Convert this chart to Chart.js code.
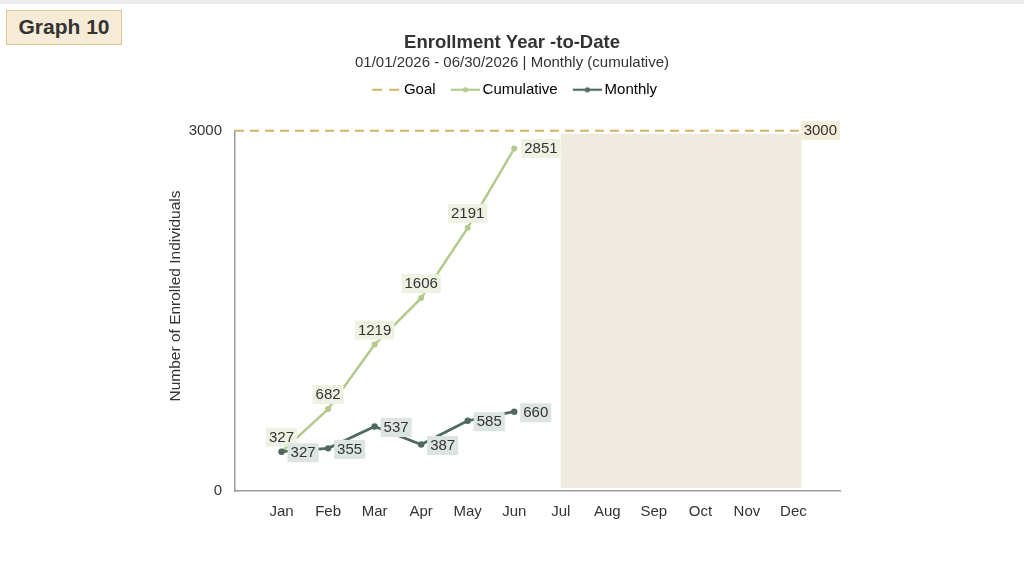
<!DOCTYPE html>
<html><head><meta charset="utf-8">
<script src="https://cdn.jsdelivr.net/npm/chart.js@4.4.1/dist/chart.umd.min.js"></script>
<style>
html,body{margin:0;padding:0;background:#fff;}
body{width:1024px;height:582px;overflow:hidden;position:relative;font-family:"Liberation Sans",Arial,sans-serif;}
#topbar{position:absolute;left:0;top:0;width:1024px;height:4px;background:#ececec;}
#badge{position:absolute;left:6px;top:10px;width:116px;height:35px;background:#f5ebd7;border:1px solid #dcc592;box-sizing:border-box;font-weight:bold;font-size:21px;color:#333;line-height:32px;text-align:center;}
#wrap{position:absolute;left:0;top:0;width:1024px;height:582px;}
</style></head>
<body>
<div id="topbar"></div>
<div id="wrap"><canvas id="c" width="1024" height="582"></canvas></div>
<div id="badge">Graph 10</div>
<script>
const months = ['Jan','Feb','Mar','Apr','May','Jun','Jul','Aug','Sep','Oct','Nov','Dec'];
const cumulative = [327, 682, 1219, 1606, 2191, 2851];
const monthly = [327, 355, 537, 387, 585, 660];
const goal = 3000;
const yTicks = [0, 3000];
const forecastFrom = 'Jul';
const legendNames = ['Goal', 'Cumulative', 'Monthly'];

const FONT = '"Liberation Sans", Arial, sans-serif';
const C_GOAL = '#d5b262', C_CUM = '#b4ca8c', C_MON = '#4f6a62';
const BG_CUM = '#eef2e3', BG_MON = '#dde4e4', BG_GOAL = '#f4eddb', SHADE = '#efebe1';

function icon(color, dashed, dot) {
  const W = 39, iw = 29;
  const c = document.createElement('canvas'); c.width = W; c.height = 10;
  const g = c.getContext('2d');
  g.strokeStyle = color; g.lineWidth = 2.2;
  if (dashed) g.setLineDash([10, 7]);
  g.beginPath(); g.moveTo(W - iw, 5); g.lineTo(W, 5); g.stroke();
  if (dot) { g.fillStyle = color; g.beginPath(); g.arc(W - iw / 2, 5, 2.6, 0, Math.PI * 2); g.fill(); }
  return c;
}
const icons = [icon(C_GOAL, true, false), icon(C_CUM, false, true), icon(C_MON, false, true)];

const pts = arr => arr.map((v, i) => ({x: i + 1, y: v}));

function box(ctx, text, cx, cy, bg) {
  ctx.font = '15px ' + FONT;
  const w = ctx.measureText(text).width + 6, h = 19;
  ctx.fillStyle = bg;
  ctx.fillRect(cx - w / 2, cy - h / 2, w, h);
  ctx.fillStyle = '#333';
  ctx.textAlign = 'center'; ctx.textBaseline = 'middle';
  ctx.fillText(text, cx, cy + 0.5);
  return w;
}

const overlay = {
  id: 'overlay',
  beforeDatasetsDraw(chart) {
    const {ctx, chartArea: a, scales: {x, y}} = chart;
    ctx.save();
    ctx.font = '15px ' + FONT;
    const gy = y.getPixelForValue(goal);
    const lw = ctx.measureText(String(goal)).width + 6;
    const labLeft = a.right - lw;
    const sx = x.getPixelForValue(months.indexOf(forecastFrom) + 1);
    ctx.fillStyle = SHADE;
    ctx.fillRect(sx, gy + 3, labLeft + 1 - sx, y.getPixelForValue(0) - 3 - (gy + 3));
    ctx.strokeStyle = C_GOAL; ctx.lineWidth = 2; ctx.setLineDash([9, 6]);
    ctx.beginPath(); ctx.moveTo(a.left, gy); ctx.lineTo(labLeft, gy); ctx.stroke();
    ctx.setLineDash([]);
    box(ctx, String(goal), labLeft + lw / 2, gy, BG_GOAL);
    ctx.restore();
  },
  afterDatasetsDraw(chart) {
    const {ctx} = chart;
    ctx.save();
    ctx.font = '15px ' + FONT;
    const mc = chart.getDatasetMeta(0), mm = chart.getDatasetMeta(1);
    cumulative.forEach((v, i) => {
      const p = mc.data[i];
      const t = String(v);
      const w = ctx.measureText(t).width + 6;
      if (i === cumulative.length - 1) box(ctx, t, p.x + 7 + w / 2, p.y, BG_CUM);
      else box(ctx, t, p.x, p.y - 5 - 9.5, BG_CUM);
    });
    monthly.forEach((v, i) => {
      const p = mm.data[i];
      const t = String(v);
      const w = ctx.measureText(t).width + 6;
      box(ctx, t, p.x + 6 + w / 2, p.y + 1, BG_MON);
    });
    ctx.restore();
  },
  afterDraw(chart) {
    const {ctx} = chart;
    ctx.save();
    ctx.translate(176, 296);
    ctx.rotate(-Math.PI / 2);
    ctx.font = '15.5px ' + FONT;
    ctx.fillStyle = '#333';
    ctx.textAlign = 'center'; ctx.textBaseline = 'middle';
    ctx.fillText('Number of Enrolled Individuals', 0, 0);
    ctx.restore();
  }
};

new Chart(document.getElementById('c'), {
  type: 'line',
  data: {
    datasets: [
      {label: legendNames[1], data: pts(cumulative), borderColor: C_CUM, backgroundColor: C_CUM,
       borderWidth: 2.5, pointRadius: 3, pointBorderWidth: 0, tension: 0, order: 2},
      {label: legendNames[2], data: pts(monthly), borderColor: C_MON, backgroundColor: C_MON,
       borderWidth: 2.8, pointRadius: 3.2, pointBorderWidth: 0, tension: 0, order: 1}
    ]
  },
  options: {
    responsive: false,
    animation: false,
    events: [],
    layout: {padding: 0},
    plugins: {
      tooltip: {enabled: false},
      title: {display: true, text: 'Enrollment Year -to-Date', color: '#333',
              font: {family: FONT, size: 18.5, weight: 'bold'}, padding: {top: 32, bottom: 0}},
      subtitle: {display: true, text: '01/01/2026 - 06/30/2026 | Monthly (cumulative)', color: '#333',
                 font: {family: FONT, size: 15}, padding: {top: 0, bottom: 0}},
      legend: {
        display: true, position: 'top',
        labels: {
          usePointStyle: true, pointStyleWidth: 29.5, padding: 10, color: '#555',
          font: {family: FONT, size: 15},
          generateLabels: () => legendNames.map((n, i) => ({
            text: n, pointStyle: icons[i], fillStyle: 'transparent', strokeStyle: 'transparent',
            lineWidth: 0, hidden: false, datasetIndex: i
          }))
        }
      }
    },
    scales: {
      x: {
        type: 'linear', position: 'bottom', min: 0, max: 13,
        grid: {display: false},
        border: {display: true, color: '#9a9a9a', width: 1.5},
        ticks: {stepSize: 1, autoSkip: false, maxRotation: 0, padding: 4, color: '#333',
                font: {family: FONT, size: 15},
                callback: v => months[v - 1] || ''},
        afterFit: s => { s.height = 91; }
      },
      xTop: {
        type: 'linear', position: 'top', display: true,
        grid: {display: false}, border: {display: false}, ticks: {display: false},
        afterFit: s => { s.height = 23.5; }
      },
      y: {
        type: 'linear', position: 'left', min: 0, max: 3000,
        grid: {display: false},
        border: {display: true, color: '#9a9a9a', width: 1.5},
        afterBuildTicks: s => { s.ticks = yTicks.map(v => ({value: v})); },
        ticks: {padding: 5, color: '#333', font: {family: FONT, size: 15},
                callback: v => String(v)},
        afterFit: s => { s.width = 235; }
      },
      yRight: {
        type: 'linear', position: 'right', display: true,
        grid: {display: false}, border: {display: false}, ticks: {display: false},
        afterFit: s => { s.width = 184; }
      }
    }
  },
  plugins: [overlay]
});
</script>
</body></html>
